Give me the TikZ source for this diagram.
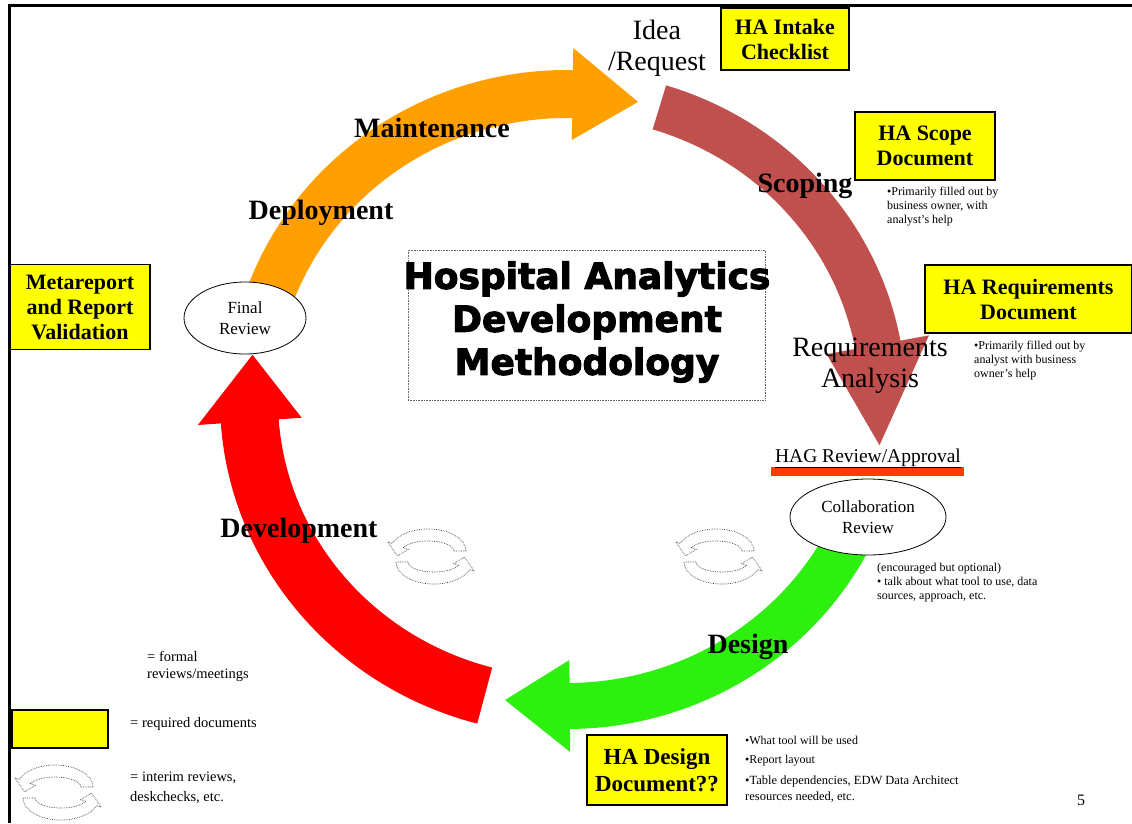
\documentclass[tikz,border=0pt]{standalone}
\usepackage{fontspec}
\setmainfont{Liberation Serif}
\newfontfamily\titlefont[FakeBold=3]{DejaVu Sans Bold}
\usetikzlibrary{calc,shapes.geometric}

\definecolor{docyellow}{RGB}{255,255,0}
\definecolor{arrorange}{RGB}{255,160,0}
\definecolor{arrbrown}{RGB}{192,80,77}
\definecolor{arrgreen}{RGB}{45,240,15}
\definecolor{arrred}{RGB}{255,0,0}
\definecolor{hagbar}{RGB}{255,60,0}

% Curved block arrow along an ellipse:
% #1 style, #2 centre, #3/#4 x/y radius of the mid line,
% #5 tail angle, #6 head base angle, #7 tip angle, #8 half band width, #9 half head width
\newcommand{\bandarrow}[9]{%
  \pgfmathsetmacro\bOx{#3+#8}\pgfmathsetmacro\bOy{#4+#8}%
  \pgfmathsetmacro\bIx{#3-#8}\pgfmathsetmacro\bIy{#4-#8}%
  \pgfmathsetmacro\bHOx{#3+#9}\pgfmathsetmacro\bHOy{#4+#9}%
  \pgfmathsetmacro\bHIx{#3-#9}\pgfmathsetmacro\bHIy{#4-#9}%
  \path[#1] ($(#2)+(#5:\bOx pt and \bOy pt)$)
    arc[start angle=#5, end angle=#6, x radius=\bOx pt, y radius=\bOy pt]
    -- ($(#2)+(#6:\bHOx pt and \bHOy pt)$)
    -- ($(#2)+(#7:#3pt and #4pt)$)
    -- ($(#2)+(#6:\bHIx pt and \bHIy pt)$)
    -- ($(#2)+(#6:\bIx pt and \bIy pt)$)
    arc[start angle=#6, end angle=#5, x radius=\bIx pt, y radius=\bIy pt]
    -- cycle;}

\tikzset{
  cycline/.style={draw=black!75, fill=white, line width=0.7pt, densely dotted},
  recycle/.pic={
    \bandarrow{cycline}{-3,5}{32}{16}{0}{160}{198}{6}{11}
    \begin{scope}[shift={(3,-6)},rotate=180]
      \bandarrow{cycline}{0,0}{32}{16}{0}{160}{198}{6}{11}
    \end{scope}
  },
  docbox/.style={draw=black, line width=1.6pt, fill=docyellow, align=center,
    inner sep=0pt, font=\bfseries\fontsize{22}{25}\selectfont},
  revell/.style={ellipse, draw=black, line width=0.8pt, fill=white, align=center,
    inner sep=0pt, font=\fontsize{17}{21}\selectfont},
  phase/.style={font=\bfseries\fontsize{28}{32}\selectfont},
  bigword/.style={font=\fontsize{28}{31}\selectfont, align=center},
  note/.style={font=\fontsize{12}{14}\selectfont, align=left, anchor=north west, inner sep=0pt},
  legendtext/.style={font=\fontsize{14.5}{17}\selectfont, align=left, inner sep=0pt},
}

\begin{document}
\begin{tikzpicture}[x=1pt,y=1pt]
\useasboundingbox (0,0) rectangle (1132,-823);
\fill[white] (0,0) rectangle (1132,-823);

% slide frame
\draw[line width=3pt] (9.5,-823) -- (9.5,-5.5) -- (1132,-5.5);

% the cycle
\coordinate (cyc) at (567,-400);
\bandarrow{fill=arrorange}{cyc}{316}{306}{160}{89}{77}{24}{46}
\bandarrow{fill=arrbrown}{cyc}{316}{306}{73}{10.4}{-8.5}{23}{52}
\bandarrow{fill=arrred}{cyc}{318}{306}{255}{184}{171.5}{29}{52}
\bandarrow{fill=arrgreen}{cyc}{316}{306}{-25}{-89.5}{-101.3}{23}{46}

% review ellipses
\node[revell, minimum width=122pt, minimum height=72pt] (finalrev) at (245,-318) {Final\\Review};
\node[revell, minimum width=156pt, minimum height=76pt] (collab) at (868,-517) {Collaboration\\Review};

% title
\node[draw=black!60, densely dotted, line width=0.6pt, minimum width=357pt, minimum height=150pt] (titlebox) at (586.5,-325) {};
\node[font=\titlefont\fontsize{36}{43}\selectfont, align=center] (title) at (587,-322) {Hospital Analytics\\Development\\Methodology};

% phase labels
\node[bigword] (idea) at (657,-48) {Idea\\/Request};
\node[phase] (maint) at (432,-128) {Maintenance};
\node[phase] (scoping) at (805,-186) {Scoping};
\node[phase] (deploy) at (321,-213) {Deployment};
\node[bigword] (reqan) at (870,-366) {Requirements\\Analysis};
\node[phase] (devel) at (299,-531) {Development};
\node[phase] (design) at (748,-647) {Design};

% approval gate
\fill[hagbar] (771,-467) rectangle (964,-476);
\node[font=\fontsize{19.5}{22}\selectfont, anchor=base, inner sep=0pt] (hag) at (868,-462) {\underline{HAG Review/Approval}};

% required documents
\node[docbox, minimum width=128pt, minimum height=62pt] (intake) at (785,-39) {HA Intake\\Checklist};
\node[docbox, minimum width=140pt, minimum height=68pt] (scope) at (925,-146) {HA Scope\\Document};
\node[docbox, minimum width=207pt, minimum height=68pt] (reqdoc) at (1028.5,-299) {HA Requirements\\Document};
\node[docbox, minimum width=140pt, minimum height=85pt] (meta) at (80,-307) {Metareport\\and Report\\Validation};
\node[docbox, minimum width=140pt, minimum height=70pt, font=\bfseries\fontsize{23}{27}\selectfont] (designdoc) at (657,-770) {HA Design\\Document??};

% side notes
\node[note] (scopenote) at (887,-187) {•Primarily filled out by\\business owner, with\\analyst's help};
\node[note] (reqnote) at (974,-341) {•Primarily filled out by\\analyst with business\\owner's help};
\node[note] (collabnote) at (877,-563) {(encouraged but optional)\\• talk about what tool to use, data\\sources, approach, etc.};
\node[note, anchor=west] (dn1) at (745,-740) {•What tool will be used};
\node[note, anchor=west] (dn2) at (745,-761) {•Report layout};
\node[note, font=\fontsize{12.5}{16}\selectfont] (dn3) at (745,-776) {•Table dependencies, EDW Data Architect\\resources needed, etc.};

% interim review symbols
\pic at (431,-556) {recycle};
\pic at (719,-556) {recycle};

% legend
\node[legendtext, anchor=north west] (formal) at (147,-651) {= formal\\reviews/meetings};
\node[draw=black, line width=1.6pt, fill=docyellow, minimum width=96pt, minimum height=38pt, inner sep=0pt] (legbox) at (60,-729) {};
\node[legendtext, anchor=west] (legreq) at (130,-724) {= required documents};
\pic at (58,-792) {recycle};
\node[legendtext, anchor=north west, font=\fontsize{14.5}{20}\selectfont] (legint) at (130,-772) {= interim reviews,\\deskchecks, etc.};

\node[font=\fontsize{16}{16}\selectfont] (pagenum) at (1081,-800) {5};
\end{tikzpicture}
\end{document}
